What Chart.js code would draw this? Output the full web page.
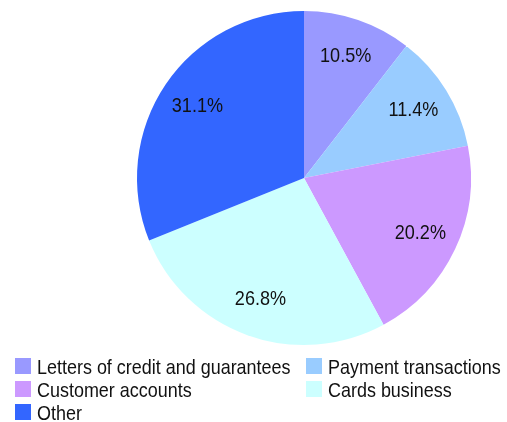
<!DOCTYPE html>
<html><head><meta charset="utf-8">
<script src="https://cdn.jsdelivr.net/npm/chart.js@4"></script>
<style>
html,body{margin:0;padding:0;background:#fff;width:507px;height:422px;overflow:hidden;}
#wrap{position:absolute;left:0;top:0;width:507px;height:350px;}
#legend{position:absolute;left:0;top:0;width:507px;height:422px;font-family:"Liberation Sans",Arial,sans-serif;font-size:21px;color:#111;}
.item{position:absolute;white-space:nowrap;line-height:23px;transform:scaleX(0.855);transform-origin:0 50%;}
.sw{position:absolute;width:16px;height:16px;}
</style></head>
<body>
<div id="wrap"><canvas id="c" width="507" height="350"></canvas></div>
<div id="legend"></div>
<script>
const categories = ["Letters of credit and guarantees","Payment transactions","Customer accounts","Cards business","Other"];
const shares = [10.5, 11.4, 20.2, 26.8, 31.1];
const colors = ["#9999FF","#99CCFF","#CC99FF","#CCFFFF","#3366FF"];

const labelPlugin = {
  id:'sliceLabels',
  afterDatasetsDraw(chart){
    const ctx = chart.ctx;
    const meta = chart.getDatasetMeta(0);
    meta.data.forEach((arc,i)=>{
      const p = arc.getProps(['x','y','startAngle','endAngle','outerRadius'],true);
      const mid = (p.startAngle+p.endAngle)/2;
      const r = p.outerRadius*0.77;
      const x = p.x+Math.cos(mid)*r, y = p.y+Math.sin(mid)*r;
      ctx.save();
      ctx.translate(x,y);
      ctx.scale(0.86,1);
      ctx.font = '21px "Liberation Sans",Arial,sans-serif';
      ctx.fillStyle = '#111';
      ctx.textAlign = 'center';
      ctx.textBaseline = 'middle';
      ctx.fillText(shares[i].toFixed(1)+'%', 0, 0);
      ctx.restore();
    });
  }
};

new Chart(document.getElementById('c'),{
  type:'pie',
  data:{labels:categories,datasets:[{data:shares,backgroundColor:colors,borderWidth:0}]},
  options:{
    responsive:false,animation:false,
    layout:{padding:{left:137,right:36,top:11,bottom:5}},
    plugins:{legend:{display:false},tooltip:{enabled:false}}
  },
  plugins:[labelPlugin]
});

const leg = document.getElementById('legend');
categories.forEach((name,i)=>{
  const col = i%2, row = Math.floor(i/2);
  const sx = col===0 ? 15 : 306;
  const y = 358 + row*23;
  const sw = document.createElement('div');
  sw.className='sw'; sw.style.left=sx+'px'; sw.style.top=y+'px'; sw.style.background=colors[i];
  leg.appendChild(sw);
  const t = document.createElement('div');
  t.className='item'; t.style.left=(sx+22)+'px'; t.style.top=(y-3)+'px'; t.textContent=name;
  leg.appendChild(t);
});
</script>
</body></html>
